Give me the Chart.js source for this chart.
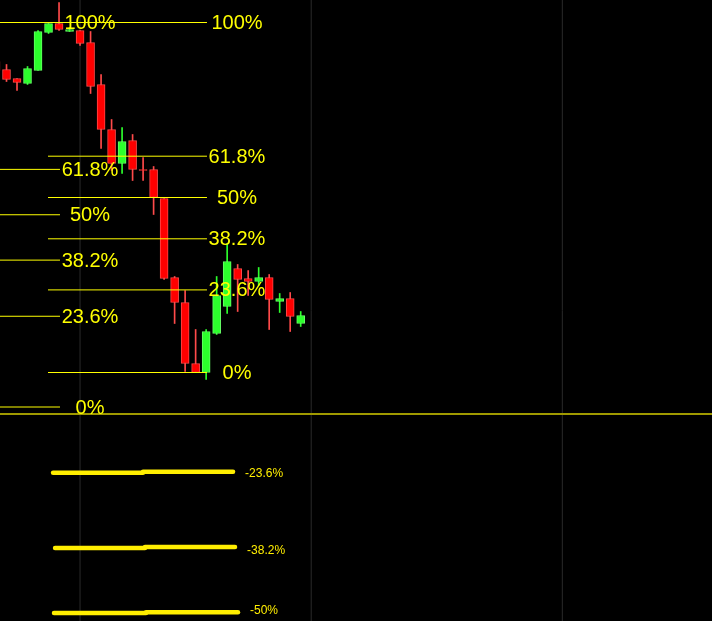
<!DOCTYPE html>
<html>
<head>
<meta charset="utf-8">
<script src="https://cdn.jsdelivr.net/npm/chart.js@4/dist/chart.umd.min.js"></script>
<style>
  html, body { margin: 0; padding: 0; background: #000; overflow: hidden; }
  canvas { display: block; }
</style>
</head>
<body>
<canvas id="myChart" width="712" height="621"></canvas>
<script>
// candles (bar index, open, high, low, close)
var candleIdx = [0, 1, 2, 3, 4, 5, 6, 7, 8, 9, 10, 11, 12, 13, 14, 15, 16, 17, 18, 19, 20, 21, 22, 23, 24, 25, 26, 27, 28, 29];
var openVals  = [156.0, 155.2, 154.3, 153.8, 155.1, 158.9, 159.8, 159.0, 159.1, 157.9, 153.7, 149.2, 145.8, 148.1, 145.2, 145.2, 142.3, 134.4, 131.9, 125.8, 124.9, 128.8, 131.5, 135.3, 134.3, 134.0, 134.4, 132.0, 132.3, 129.8];
var highVals  = [156.3, 155.7, 154.3, 155.5, 159.1, 159.8, 161.9, 159.4, 159.1, 159.0, 154.7, 150.2, 149.4, 148.7, 146.4, 145.5, 142.3, 134.5, 133.1, 129.2, 129.2, 134.5, 137.8, 135.7, 135.1, 135.4, 134.7, 132.8, 132.9, 131.0];
var lowVals   = [154.9, 154.0, 153.1, 153.7, 155.1, 158.8, 159.1, 159.0, 157.6, 152.8, 147.3, 145.1, 144.8, 144.1, 144.1, 140.7, 134.2, 129.8, 125.0, 124.9, 124.2, 128.7, 130.8, 131.0, 132.6, 133.6, 129.2, 130.9, 129.0, 129.5];
var closeVals = [155.1, 154.2, 153.9, 155.3, 159.0, 159.8, 159.2, 159.2, 157.8, 153.5, 149.2, 145.8, 148.0, 145.2, 145.1, 142.4, 134.3, 131.9, 125.8, 124.9, 129.0, 132.6, 136.0, 134.2, 134.0, 134.4, 132.2, 132.3, 130.5, 130.6];

// fibonacci retracements
var fibRatios = [1, 0.618, 0.5, 0.382, 0.236, 0];
var fibLabels = ['100%', '61.8%', '50%', '38.2%', '23.6%', '0%'];
var leftFib  = { high: 159.9, low: 121.45, from: -2, to: 6.09 };
var rightFib = { high: 159.9, low: 124.9, from: 4.95, to: 20.08 };

// extension levels (two segments each)
var extLabels   = ['-23.6%', '-38.2%', '-50%'];
var extLeftVal  = [114.87, 107.34, 100.85];
var extRightVal = [114.97, 107.45, 100.93];
var extLabelVal = [114.8, 107.07, 101.1];
var extStart    = [5.43, 5.62, 5.52];
var extMid      = [13.99, 14.18, 14.28];
var extEnd      = [22.56, 22.75, 23.03];

var olivePrice = 120.75;
var gridIdx = [8, 30, 53.9];

var xMin = 0.381, xMax = 68.145;
var yMin = 100.05, yMax = 162.15;

var upColor = '#2cff2c', upBorder = '#66ff66';
var downColor = '#ff0000', downBorder = '#ff4a4a';

function isUp(i) { return closeVals[i] >= openVals[i]; }

var datasets = [];

// grid
gridIdx.forEach(function (g) {
  datasets.push({
    type: 'line', order: 20,
    data: [{ x: g, y: yMin }, { x: g, y: yMax }],
    borderColor: '#2a2a2a', borderWidth: 1, pointRadius: 0
  });
});

// olive level
datasets.push({
  type: 'line', order: 15,
  data: [{ x: xMin - 1, y: olivePrice }, { x: xMax + 1, y: olivePrice }],
  borderColor: '#9f9900', borderWidth: 2, pointRadius: 0
});

// wicks
datasets.push({
  type: 'bar', order: 12, grouped: false,
  data: candleIdx.map(function (x, i) { return { x: x, y: [lowVals[i], highVals[i]] }; }),
  backgroundColor: candleIdx.map(function (x, i) { return isUp(i) ? upColor : downBorder; }),
  barThickness: 1, borderWidth: 0
});

// bodies
datasets.push({
  type: 'bar', order: 11, grouped: false,
  data: candleIdx.map(function (x, i) { return { x: x, y: [openVals[i], closeVals[i]] }; }),
  backgroundColor: candleIdx.map(function (x, i) { return isUp(i) ? upColor : downColor; }),
  borderColor: candleIdx.map(function (x, i) { return isUp(i) ? upBorder : downBorder; }),
  borderWidth: 1, borderSkipped: false,
  barThickness: 8
});

// fib lines
[leftFib, rightFib].forEach(function (f) {
  fibRatios.forEach(function (r) {
    var p = f.low + r * (f.high - f.low);
    datasets.push({
      type: 'line', order: 5,
      data: [{ x: f.from, y: p }, { x: f.to, y: p }],
      borderColor: '#ffff00', borderWidth: 1, pointRadius: 0
    });
  });
});

// extension lines
extLabels.forEach(function (l, i) {
  datasets.push({
    type: 'line', order: 4,
    data: [{ x: extStart[i], y: extLeftVal[i] }, { x: extMid[i], y: extLeftVal[i] }],
    borderColor: '#ffee00', borderWidth: 4.5, borderCapStyle: 'round', pointRadius: 0
  });
  datasets.push({
    type: 'line', order: 4,
    data: [{ x: extMid[i], y: extRightVal[i] }, { x: extEnd[i], y: extRightVal[i] }],
    borderColor: '#ffee00', borderWidth: 4.5, borderCapStyle: 'round', pointRadius: 0
  });
});

// labels
var labelPlugin = {
  id: 'fibLabels',
  afterDatasetsDraw: function (chart) {
    var c = chart.ctx, xs = chart.scales.x, ys = chart.scales.y;
    c.save();
    c.fillStyle = '#ffff00';
    c.font = '20px "Liberation Sans", Arial, sans-serif';
    c.textAlign = 'center';
    c.textBaseline = 'middle';
    [leftFib, rightFib].forEach(function (f) {
      fibRatios.forEach(function (r, k) {
        var p = f.low + r * (f.high - f.low);
        c.fillText(fibLabels[k], xs.getPixelForValue(f.to) + 30, ys.getPixelForValue(p) + 1);
      });
    });
    c.fillStyle = '#ffee00';
    c.font = '12px "Liberation Sans", Arial, sans-serif';
    c.textAlign = 'left';
    extLabels.forEach(function (l, i) {
      c.fillText(l, xs.getPixelForValue(extEnd[i]) + 12, ys.getPixelForValue(extLabelVal[i]));
    });
    c.restore();
  }
};

var ctx = document.getElementById('myChart').getContext('2d');
var myChart = new Chart(ctx, {
  type: 'bar',
  data: { datasets: datasets },
  options: {
    responsive: false,
    animation: false,
    devicePixelRatio: 1,
    layout: { padding: 0 },
    plugins: { legend: { display: false }, tooltip: { enabled: false } },
    scales: {
      x: { type: 'linear', display: false, min: xMin, max: xMax, offset: false },
      y: { type: 'linear', display: false, min: yMin, max: yMax }
    }
  },
  plugins: [labelPlugin]
});
</script>
</body>
</html>
